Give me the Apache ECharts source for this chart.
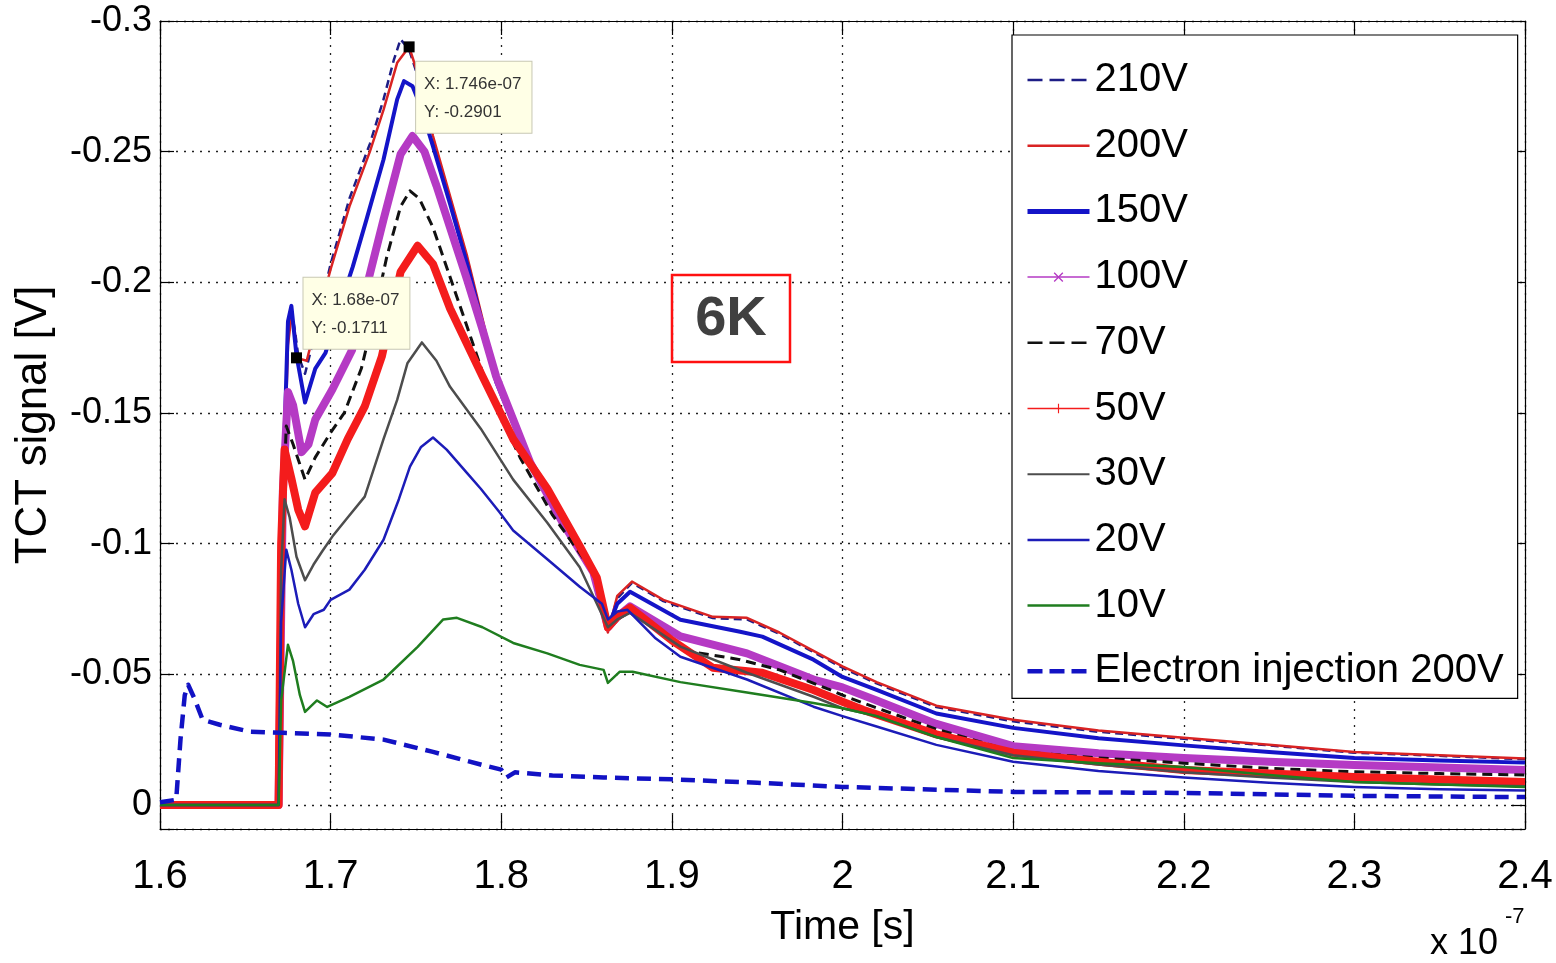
<!DOCTYPE html>
<html><head><meta charset="utf-8">
<script src="https://cdn.jsdelivr.net/npm/echarts@6/dist/echarts.min.js"></script>
<style>html,body{margin:0;padding:0;background:#fff}#c{width:1556px;height:963px}</style>
</head><body><div id="c"></div>
<script>
// ---------------- data (time in units of 1e-7 s, signal in V) ----------------
const seriesNames = ['210V','200V','150V','100V','70V','50V','30V','20V','10V','Electron injection 200V'];
const s210V = [[1.6,0],[1.6695,0],[1.672,-0.12],[1.675,-0.182],[1.677,-0.189],[1.679,-0.182],[1.681,-0.172],[1.685,-0.165],[1.69,-0.178],[1.695,-0.193],[1.70,-0.207],[1.711,-0.232],[1.723,-0.253],[1.731,-0.27],[1.737,-0.285],[1.741,-0.293],[1.746,-0.289],[1.752,-0.277],[1.76,-0.255],[1.77,-0.232],[1.78,-0.209],[1.789,-0.185],[1.797,-0.163],[1.817,-0.13],[1.836,-0.108],[1.854,-0.089],[1.8625,-0.067],[1.868,-0.079],[1.8766,-0.085],[1.895,-0.078],[1.924,-0.0715],[1.944,-0.071],[1.963,-0.0655],[1.983,-0.0585],[2.0,-0.0525],[2.02,-0.0465],[2.055,-0.0375],[2.1,-0.032],[2.15,-0.028],[2.2,-0.0253],[2.25,-0.0228],[2.3,-0.02],[2.35,-0.0188],[2.4,-0.0175]];
const s200V = [[1.6,0],[1.6695,0],[1.672,-0.11],[1.675,-0.176],[1.677,-0.187],[1.679,-0.181],[1.68,-0.1711],[1.686,-0.170],[1.693,-0.188],[1.70,-0.205],[1.711,-0.229],[1.723,-0.25],[1.731,-0.266],[1.739,-0.284],[1.746,-0.2901],[1.752,-0.278],[1.76,-0.256],[1.77,-0.233],[1.78,-0.21],[1.789,-0.186],[1.797,-0.164],[1.817,-0.131],[1.836,-0.109],[1.854,-0.090],[1.8625,-0.066],[1.868,-0.08],[1.8766,-0.0855],[1.895,-0.0785],[1.924,-0.072],[1.944,-0.0716],[1.963,-0.066],[1.983,-0.059],[2.0,-0.053],[2.02,-0.047],[2.055,-0.038],[2.1,-0.0326],[2.15,-0.0285],[2.2,-0.0257],[2.25,-0.023],[2.3,-0.0203],[2.35,-0.019],[2.4,-0.0178]];
const s150V = [[1.6,0],[1.6695,0],[1.672,-0.12],[1.675,-0.185],[1.677,-0.191],[1.68,-0.172],[1.685,-0.154],[1.691,-0.167],[1.697,-0.173],[1.705,-0.19],[1.713,-0.206],[1.721,-0.224],[1.731,-0.247],[1.739,-0.27],[1.743,-0.277],[1.748,-0.275],[1.753,-0.267],[1.76,-0.252],[1.77,-0.23],[1.78,-0.207],[1.789,-0.184],[1.797,-0.162],[1.817,-0.13],[1.836,-0.108],[1.854,-0.089],[1.8625,-0.068],[1.868,-0.077],[1.8755,-0.0816],[1.905,-0.0709],[1.94,-0.0663],[1.953,-0.0644],[1.983,-0.0556],[2.0,-0.049],[2.02,-0.044],[2.055,-0.035],[2.1,-0.0295],[2.15,-0.0255],[2.2,-0.0228],[2.25,-0.0203],[2.3,-0.018],[2.35,-0.017],[2.4,-0.0162]];
const s100V = [[1.6,0],[1.6695,0],[1.672,-0.12],[1.675,-0.158],[1.678,-0.153],[1.683,-0.135],[1.687,-0.138],[1.691,-0.1475],[1.701,-0.159],[1.7125,-0.174],[1.721,-0.198],[1.731,-0.224],[1.741,-0.249],[1.748,-0.256],[1.755,-0.25],[1.762,-0.237],[1.77,-0.221],[1.78,-0.201],[1.789,-0.182],[1.797,-0.164],[1.817,-0.131],[1.836,-0.108],[1.854,-0.089],[1.8625,-0.068],[1.868,-0.072],[1.8755,-0.076],[1.905,-0.0645],[1.944,-0.058],[1.983,-0.048],[2.0,-0.045],[2.02,-0.040],[2.055,-0.031],[2.1,-0.0225],[2.15,-0.0198],[2.2,-0.018],[2.25,-0.0165],[2.3,-0.0153],[2.35,-0.0143],[2.4,-0.0134]];
const s70V = [[1.6,0],[1.6695,0],[1.672,-0.11],[1.674,-0.145],[1.678,-0.138],[1.685,-0.1245],[1.691,-0.133],[1.70,-0.1425],[1.708,-0.150],[1.718,-0.167],[1.725,-0.186],[1.733,-0.21],[1.741,-0.229],[1.7465,-0.235],[1.752,-0.232],[1.76,-0.221],[1.77,-0.202],[1.78,-0.183],[1.793,-0.158],[1.811,-0.133],[1.83,-0.111],[1.854,-0.089],[1.8625,-0.068],[1.868,-0.071],[1.8755,-0.074],[1.912,-0.0586],[1.94,-0.0556],[1.963,-0.0517],[1.993,-0.044],[2.0,-0.042],[2.018,-0.0376],[2.055,-0.029],[2.1,-0.0205],[2.15,-0.018],[2.2,-0.016],[2.25,-0.014],[2.3,-0.0127],[2.35,-0.012],[2.4,-0.0115]];
const s50V = [[1.6,0],[1.6695,0],[1.671,-0.1],[1.673,-0.136],[1.677,-0.125],[1.681,-0.113],[1.685,-0.1066],[1.691,-0.1195],[1.701,-0.127],[1.71,-0.140],[1.72,-0.1525],[1.73,-0.1716],[1.741,-0.204],[1.751,-0.214],[1.76,-0.207],[1.77,-0.19],[1.789,-0.164],[1.807,-0.14],[1.827,-0.121],[1.846,-0.099],[1.856,-0.087],[1.8625,-0.068],[1.868,-0.072],[1.8755,-0.0755],[1.9,-0.063],[1.924,-0.0525],[1.953,-0.0506],[1.983,-0.044],[2.0,-0.0395],[2.012,-0.0364],[2.055,-0.027],[2.1,-0.020],[2.15,-0.0165],[2.2,-0.0134],[2.25,-0.012],[2.3,-0.0107],[2.35,-0.0097],[2.4,-0.0088]];
const s30V = [[1.6,0],[1.6695,0],[1.671,-0.09],[1.673,-0.117],[1.676,-0.11],[1.68,-0.095],[1.685,-0.086],[1.69,-0.092],[1.695,-0.097],[1.701,-0.1027],[1.71,-0.11],[1.72,-0.118],[1.731,-0.140],[1.739,-0.155],[1.745,-0.169],[1.7535,-0.177],[1.762,-0.17],[1.77,-0.16],[1.788,-0.144],[1.807,-0.1245],[1.827,-0.108],[1.846,-0.091],[1.8625,-0.068],[1.868,-0.071],[1.8755,-0.0735],[1.905,-0.0606],[1.944,-0.0506],[1.983,-0.0414],[2.0,-0.037],[2.02,-0.034],[2.055,-0.026],[2.1,-0.019],[2.15,-0.0155],[2.2,-0.0125],[2.25,-0.0105],[2.3,-0.0088],[2.35,-0.0078],[2.4,-0.0072]];
const s20V = [[1.6,0],[1.6695,0],[1.671,-0.07],[1.674,-0.0977],[1.677,-0.09],[1.681,-0.077],[1.685,-0.068],[1.69,-0.073],[1.696,-0.0747],[1.70,-0.0785],[1.711,-0.0824],[1.72,-0.09],[1.731,-0.1015],[1.74,-0.117],[1.7465,-0.1295],[1.753,-0.137],[1.76,-0.1406],[1.768,-0.136],[1.78,-0.127],[1.788,-0.121],[1.799,-0.112],[1.807,-0.105],[1.827,-0.094],[1.846,-0.0835],[1.859,-0.077],[1.8625,-0.071],[1.868,-0.074],[1.874,-0.0747],[1.89,-0.064],[1.905,-0.0567],[1.944,-0.048],[1.983,-0.0376],[2.0,-0.034],[2.02,-0.030],[2.055,-0.023],[2.1,-0.0165],[2.15,-0.013],[2.2,-0.0105],[2.25,-0.0085],[2.3,-0.0069],[2.35,-0.006],[2.4,-0.0055]];
const s10V = [[1.6,0],[1.6695,0],[1.671,-0.04],[1.675,-0.0613],[1.678,-0.055],[1.682,-0.042],[1.685,-0.0356],[1.692,-0.040],[1.698,-0.0375],[1.711,-0.0414],[1.731,-0.048],[1.751,-0.0605],[1.766,-0.071],[1.774,-0.0716],[1.789,-0.068],[1.807,-0.062],[1.827,-0.058],[1.846,-0.0536],[1.86,-0.0517],[1.8625,-0.0467],[1.8695,-0.051],[1.877,-0.051],[1.905,-0.047],[1.944,-0.043],[1.983,-0.039],[2.0,-0.037],[2.02,-0.034],[2.055,-0.026],[2.1,-0.018],[2.15,-0.016],[2.2,-0.0145],[2.25,-0.0115],[2.3,-0.0088],[2.35,-0.0078],[2.4,-0.0069]];
const sElectron = [[1.6,-0.001],[1.6095,-0.002],[1.612,-0.025],[1.6145,-0.042],[1.6165,-0.046],[1.62,-0.041],[1.625,-0.0326],[1.635,-0.0307],[1.653,-0.028],[1.672,-0.0276],[1.70,-0.027],[1.731,-0.025],[1.76,-0.0203],[1.789,-0.0153],[1.80,-0.0135],[1.803,-0.0105],[1.808,-0.0125],[1.83,-0.0113],[1.86,-0.0105],[1.9,-0.0098],[1.95,-0.0085],[2.0,-0.0069],[2.1,-0.005],[2.2,-0.0046],[2.3,-0.0035],[2.4,-0.003]];
// data tips
const tipTimes = [1.746, 1.68];
const tipValues = [-0.2901, -0.1711];
const tipXText = ['1.746e-07', '1.68e-07'];
// axes
const xMin = 1.6, xMax = 2.4, xStep = 0.1;
const yMin = -0.3, yMax = 0.0092, yStep = 0.05;

// ---------------- styling ----------------
const SANS = "'Liberation Sans',Arial,Helvetica,sans-serif";
const X_MARK = 'path://M0,1 L1,0 L10,9 L9,10 Z M9,0 L10,1 L1,10 L0,9 Z';
const PLUS_MARK = 'path://M4.4,0 H5.6 V4.4 H10 V5.6 H5.6 V10 H4.4 V5.6 H0 V4.4 H4.4 Z';

const styles = {
  '210V': {color:'#1d1d86', width:2.5, type:[8,5]},
  '200V': {color:'#d92323', width:2.5, type:'solid'},
  '150V': {color:'#1414c8', width:4, type:'solid'},
  '100V': {color:'#b53ac4', width:8, type:'solid', symbol:X_MARK},
  '70V': {color:'#111111', width:3, type:[10,6]},
  '50V': {color:'#f41c1c', width:8, type:'solid', symbol:PLUS_MARK},
  '30V': {color:'#4d4d4d', width:2.5, type:'solid'},
  '20V': {color:'#1c1cb8', width:2.5, type:'solid'},
  '10V': {color:'#1f7d1f', width:2.5, type:'solid'},
  'Electron injection 200V': {color:'#1212c4', width:4.5, type:[14,8]}
};
const legendLine = {
  '210V': {width:2.5, type:[15,7]}, '200V': {width:2.5}, '150V': {width:5}, '100V': {width:1.5},
  '70V': {width:2.5, type:[15,7]}, '50V': {width:1.5}, '30V': {width:2}, '20V': {width:2.5},
  '10V': {width:2.5}, 'Electron injection 200V': {width:4.5, type:[15,7]}
};
const dataSets = [s210V, s200V, s150V, s100V, s70V, s50V, s30V, s20V, s10V, sElectron];

const series = seriesNames.map((name, i) => {
  const st = styles[name];
  const s = {
    name, type:'line', data:dataSets[i], showSymbol:false, symbol: st.symbol || 'none',
    symbolSize: 9, smooth:false, clip:true, animation:false,
    lineStyle:{color:st.color, width:st.width, type:st.type, join:'round'},
    itemStyle:{color:st.color},
    emphasis:{disabled:true}
  };
  if (name === '200V') {
    s.markPoint = {
      symbol:'rect', symbolSize:11, itemStyle:{color:'#000'}, animation:false,
      data: tipTimes.map((t, k) => ({coord:[t, tipValues[k]], value:tipValues[k],
        label:{position: k === 0 ? [12.5, 20.5] : [12.5, -74.5]}})),
      label:{show:true, formatter: p => 'X: ' + tipXText[p.dataIndex] + '\nY: ' + p.value,
        fontFamily:SANS, fontSize:17, color:'#333', lineHeight:28.5, align:'left', verticalAlign:'top',
        backgroundColor:'#ffffe6', borderColor:'#c8c8b4', borderWidth:1, padding:[8,10,6,8]}
    };
  }
  return s;
});

const axisLine = {show:true, onZero:false, lineStyle:{color:'#000', width:1.2}};
const axisTick = {show:true, inside:true, length:14, lineStyle:{color:'#000', width:1.2}};
const grid = {color:'#222', width:1.3, type:[2,6]};

const option = {
  backgroundColor:'#fff',
  animation:false,
  grid:{left:160, right:31, top:21, bottom:134, outerBoundsMode:'none', containLabel:false},
  xAxis:[
    {type:'value', min:xMin, max:xMax, interval:xStep, position:'bottom', axisLine, axisTick,
     axisLabel:{fontFamily:SANS, fontSize:40, color:'#000', margin:28},
     splitLine:{show:true, lineStyle:grid},
     name:'Time [s]', nameLocation:'middle', nameGap:78,
     nameTextStyle:{fontFamily:SANS, fontSize:41, color:'#000'}},
    {type:'value', min:xMin, max:xMax, interval:xStep, position:'top', axisLine, axisTick,
     axisLabel:{show:false}, splitLine:{show:false}}
  ],
  yAxis:[
    {type:'value', inverse:true, min:yMin, max:yMax, interval:yStep, position:'left', axisLine, axisTick,
     axisLabel:{fontFamily:SANS, fontSize:36, color:'#000', margin:8,
       formatter: v => (Math.abs(v / yStep - Math.round(v / yStep)) < 1e-6 ? String(+v.toFixed(2)) : '')},
     splitLine:{show:true, lineStyle:grid},
     name:'TCT signal [V]', nameLocation:'middle', nameGap:104,
     nameTextStyle:{fontFamily:SANS, fontSize:44, color:'#000'}},
    {type:'value', inverse:true, min:yMin, max:yMax, interval:yStep, position:'right', axisLine, axisTick,
     axisLabel:{show:false}, splitLine:{show:false}}
  ],
  legend:{
    show:true, orient:'vertical', left:1012, top:35, selectedMode:false,
    backgroundColor:'#fff', borderColor:'#000', borderWidth:1.2, padding:[23,14,5,13],
    itemWidth:62, itemHeight:12, itemGap:21.7,
    textStyle:{fontFamily:SANS, fontSize:40, color:'#000', lineHeight:44},
    itemStyle:{opacity:0, borderWidth:0},
    data: seriesNames.map(n => ({name:n,
      itemStyle:{opacity:(n === '100V' || n === '50V') ? 1 : 0, borderWidth:0},
      lineStyle:Object.assign({}, legendLine[n])}))
  },
  graphic:[
    {type:'rect', z:100, shape:{x:672, y:275, width:118, height:87},
     style:{fill:'none', stroke:'#ff1010', lineWidth:2.5}},
    {type:'text', z:101, style:{text:'6K', x:731, y:320, align:'center', verticalAlign:'middle',
     font:'bold 56px ' + SANS, fill:'#404040'}},
    {type:'text', z:101, style:{text:'x 10', x:1430, y:944, align:'left', verticalAlign:'middle',
     font:'36px ' + SANS, fill:'#000'}},
    {type:'text', z:101, style:{text:'-7', x:1505, y:917, align:'left', verticalAlign:'middle',
     font:'22px ' + SANS, fill:'#000'}}
  ],
  series
};

const chart = echarts.init(document.getElementById('c'), null, {renderer:'canvas', width:1556, height:963});
chart.setOption(option);
</script>
</body></html>
